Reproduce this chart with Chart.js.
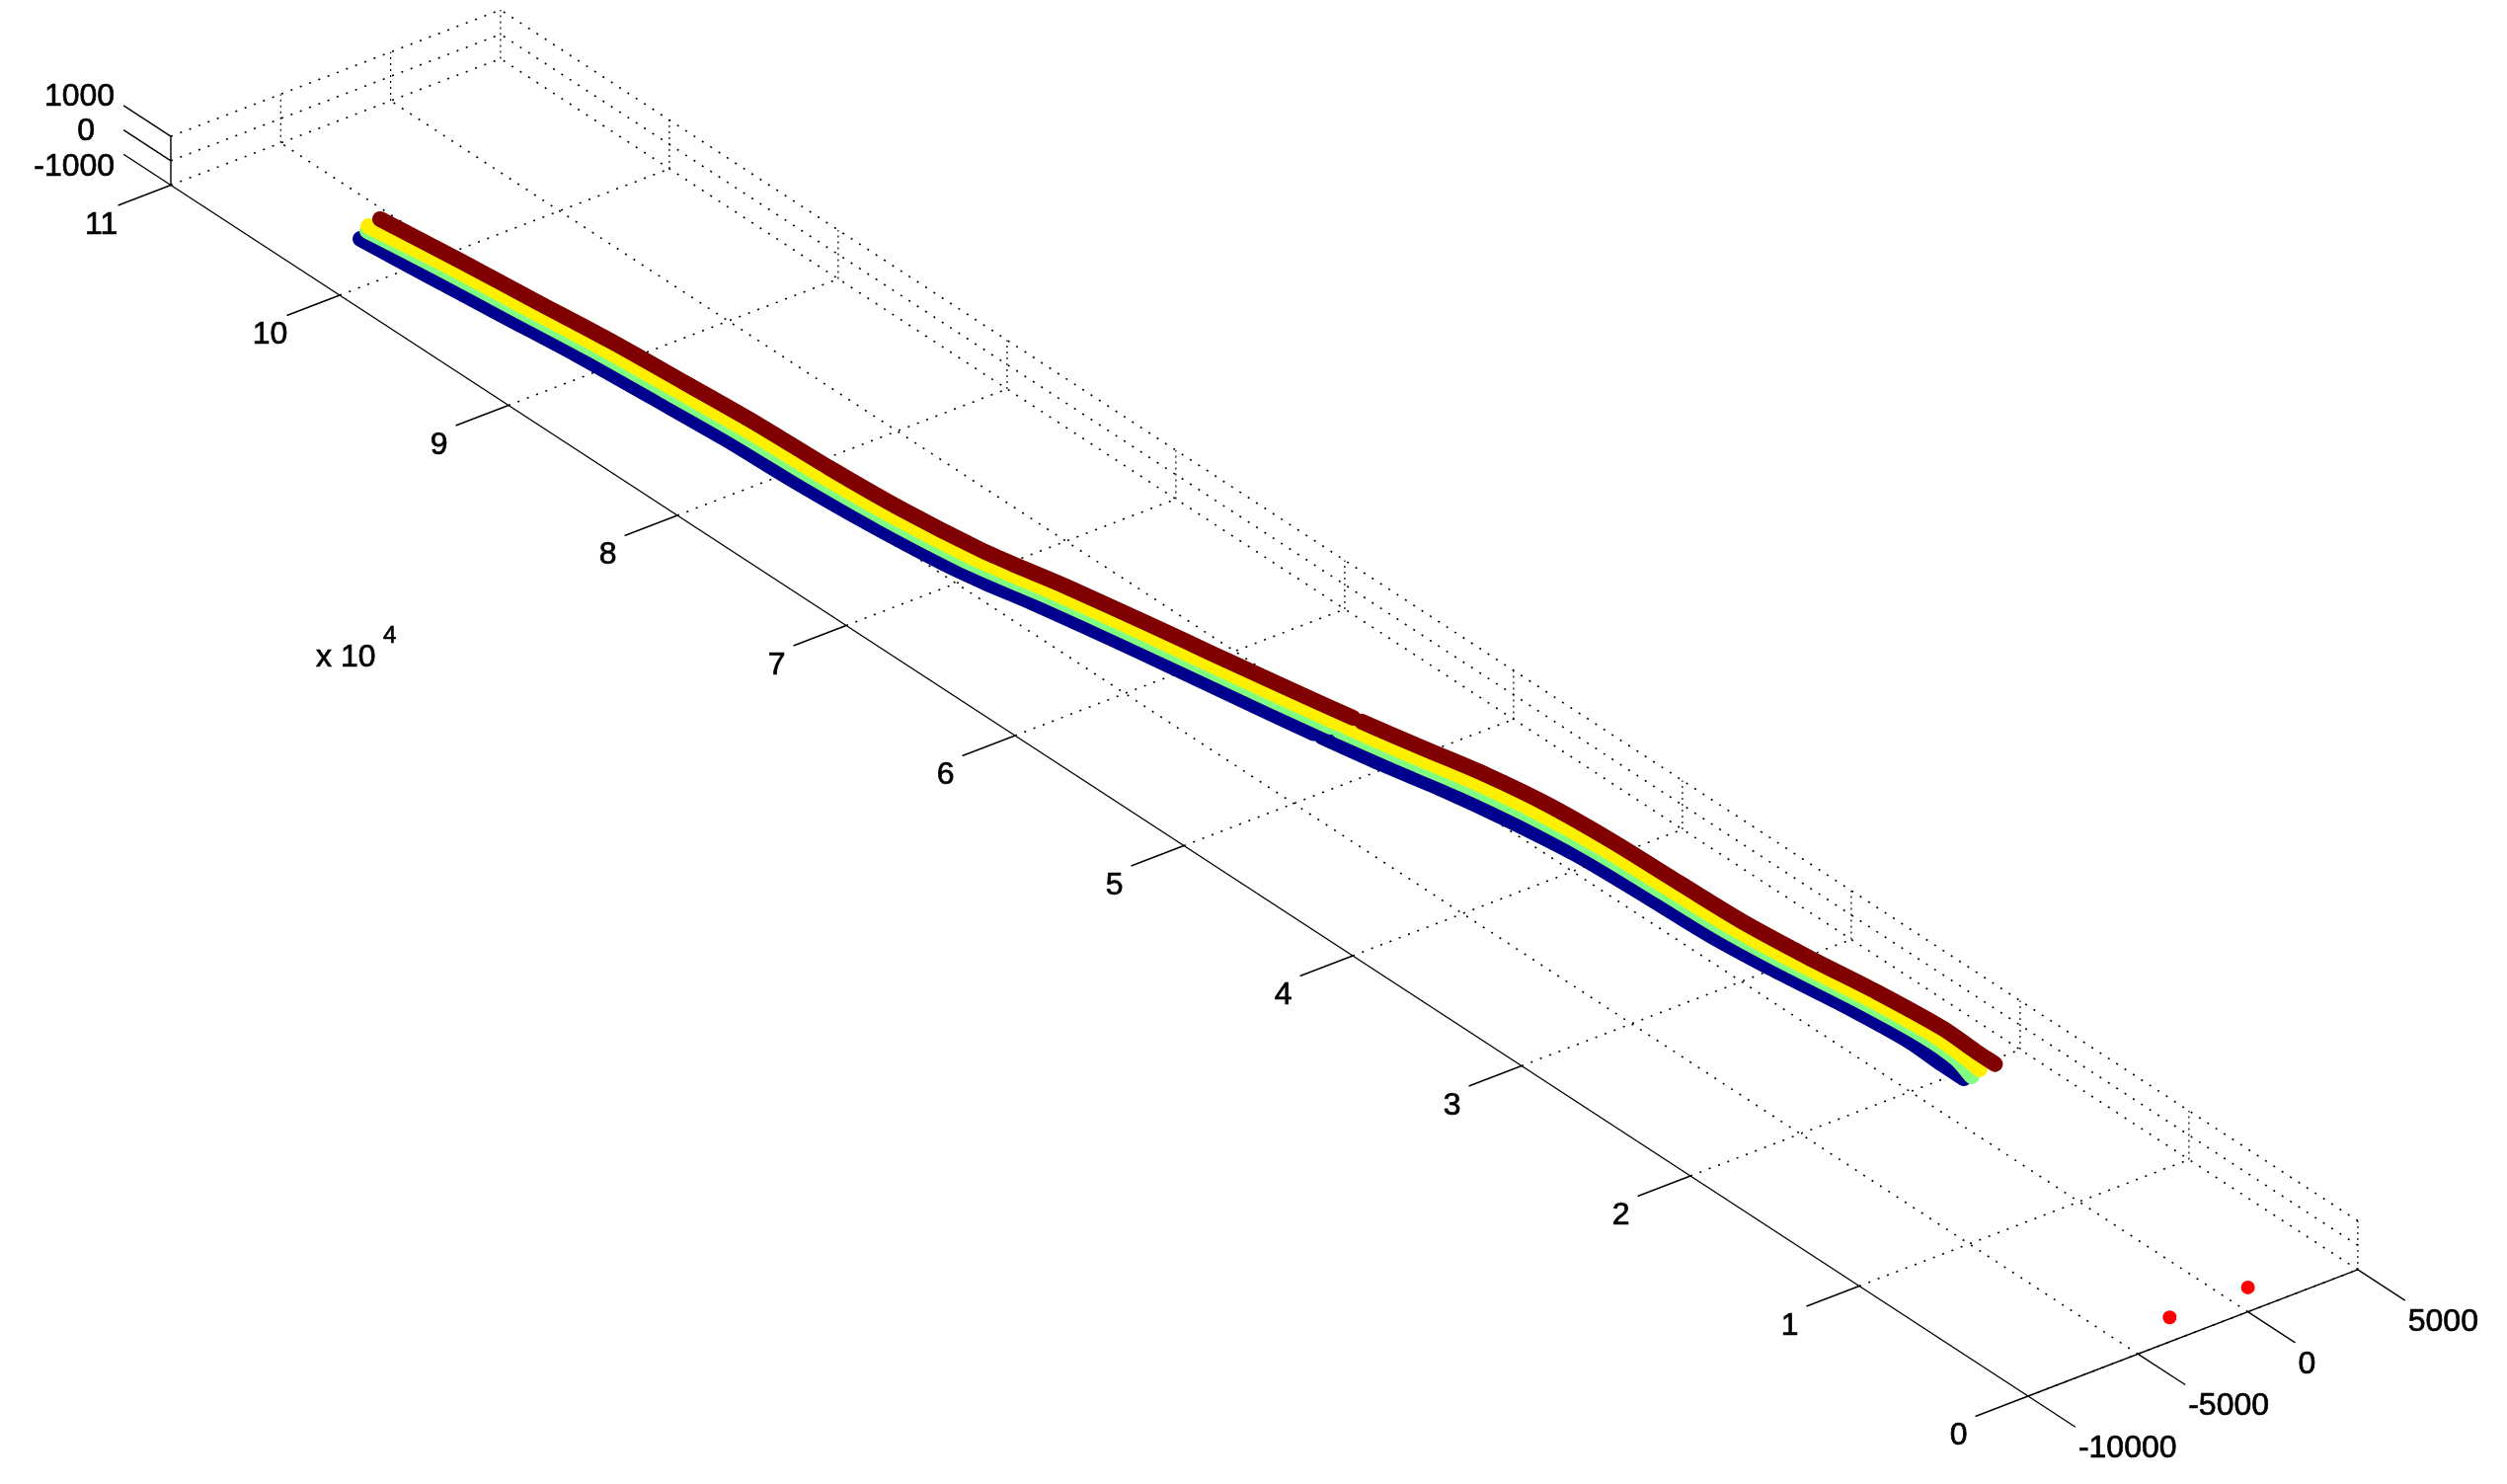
<!DOCTYPE html>
<html lang="en">
<head>
    <meta charset="UTF-8">
    <title>Track 3D</title>
    <script src="https://cdn.jsdelivr.net/npm/chart.js"></script>
    <style>
        html, body { margin: 0; padding: 0; background: white; overflow: hidden; }
        canvas { display: block; }
    </style>
</head>
<body>
<canvas id="chart" width="2539" height="1503"></canvas>
<script>
    // axis ticks
    const xTicks = [0, 10000, 20000, 30000, 40000, 50000, 60000, 70000, 80000, 90000, 100000, 110000];
    const xTickLabels = ['0', '1', '2', '3', '4', '5', '6', '7', '8', '9', '10', '11'];
    const yTicks = [-10000, -5000, 0, 5000];
    const yTickLabels = ['-10000', '-5000', '0', '5000'];
    const zTicks = [-1000, 0, 1000];
    const zTickLabels = ['-1000', '0', '1000'];

    // tracks, all at z = 0
    const stations = [98000, 94000, 90000, 86000, 82000, 78000, 74000, 70000, 68000, 66000, 62000, 59000, 55000,
        52200, 52000, 51800, 49000, 46000, 43000, 39500, 35500, 32000, 28500, 25000, 21500, 19500];
    const xBrown = [102070, ...stations, 18320];
    const xYellow = [101930, ...stations, 18360];
    const xGreen = [101680, ...stations, 18140];
    const xBlue = [101370, ...stations, 18200];
    const yBrown = [-6571, -6119, -5725, -5317, -5031, -4765, -4630, -4373, -3896, -3495, -3060, -2335, -1830, -1127,
        -610, null, -535, 50, 705, 1151, 1388, 1485, 1592, 1913, 2353, 2642, 2575, 2569];
    const yYellow = [-7214, -6690, -6296, -5888, -5602, -5336, -5201, -4944, -4493, -4114, -3679, -2954, -2449, -1768,
        -1265, null, -1190, -627, 28, 496, 806, 932, 1039, 1360, 1800, 2089, 2022, 1900];
    const yGreen = [-7450, -7023, -6629, -6221, -5935, -5669, -5534, -5277, -4841, -4474, -4039, -3314, -2809, -2141,
        -1645, null, -1570, -1021, -366, 114, 466, 609, 716, 1037, 1477, 1766, 1699, 1370];
    const yBlue = [-8005, -7689, -7295, -6887, -6601, -6335, -6200, -5943, -5536, -5195, -4760, -4035, -3530, -2887,
        -2410, null, -2335, -1810, -1155, -649, -212, -35, 72, 393, 833, 1122, 1055, 1058];
    const zTrack = 0;

    // the two red points
    const xRed = [0, 0];
    const yRed = [-3560, 0];
    const zRed = [0, 0];

    // orthographic view of the box onto the page
    function project(x, y, z) {
        return {
            x: 2054 - 171 * x / 10000 + 111.3 * (y + 10000) / 5000,
            y: 1414 - 111.5 * x / 10000 - 42.7 * (y + 10000) / 5000 - 24.7 * (z + 1000) / 1000
        };
    }

    function trackPoints(xs, ys) {
        return xs.map((x, i) => {
            if (ys[i] === null) return { x: null, y: null };
            return project(x, ys[i], zTrack);
        });
    }

    // list of 3D segments -> points with a gap between them
    function segments(list) {
        const pts = [];
        list.forEach(s => {
            pts.push(project(s[0], s[1], s[2]));
            pts.push(project(s[3], s[4], s[5]));
            pts.push({ x: null, y: null });
        });
        return pts;
    }

    const xMin = 0, xMax = 110000, yMin = -10000, yMax = 5000, zMin = -1000, zMax = 1000;
    const xTickLen = 2400, yTickLen = 2800, zTickLen = 2800;

    let gridLines = [];
    xTicks.forEach(x => gridLines.push([x, yMin, zMin, x, yMax, zMin]));
    yTicks.slice(1).forEach(y => gridLines.push([xMin, y, zMin, xMax, y, zMin]));
    zTicks.forEach(z => {
        gridLines.push([xMin, yMax, z, xMax, yMax, z]);
        gridLines.push([xMax, yMin, z, xMax, yMax, z]);
    });

    let gridUprights = [];
    xTicks.forEach(x => gridUprights.push([x, yMax, zMin, x, yMax, zMax]));
    yTicks.slice(1).forEach(y => gridUprights.push([xMax, y, zMin, xMax, y, zMax]));

    let axisLines = [
        [xMin, yMin, zMin, xMax, yMin, zMin],
        [xMin, yMin, zMin, xMin, yMax, zMin],
        [xMax, yMin, zMin, xMax, yMin, zMax]
    ];
    xTicks.forEach(x => axisLines.push([x, yMin, zMin, x, yMin - xTickLen, zMin]));
    yTicks.forEach(y => axisLines.push([xMin, y, zMin, xMin - yTickLen, y, zMin]));
    zTicks.forEach(z => axisLines.push([xMax, yMin, z, xMax + zTickLen, yMin, z]));

    function trackSet(label, xs, ys, color) {
        return {
            label: label,
            data: trackPoints(xs, ys),
            showLine: true,
            borderColor: color,
            borderWidth: 16,
            borderCapStyle: 'round',
            borderJoinStyle: 'round',
            pointRadius: 0,
            tension: 0.3
        };
    }

    function lineSet(label, list, dash, width) {
        return {
            label: label,
            data: segments(list),
            showLine: true,
            borderColor: '#000000',
            borderWidth: width,
            borderDash: dash,
            pointRadius: 0,
            tension: 0
        };
    }

    // first dataset ends up on top
    const datasets = [
        trackSet('brown', xBrown, yBrown, '#800000'),
        trackSet('yellow', xYellow, yYellow, '#FFF000'),
        trackSet('green', xGreen, yGreen, '#80FF80'),
        trackSet('blue', xBlue, yBlue, '#00008F'),
        {
            label: 'red',
            data: xRed.map((x, i) => project(x, yRed[i], zRed[i])),
            showLine: false,
            pointRadius: 7,
            pointBorderWidth: 0,
            backgroundColor: '#FF0000'
        },
        lineSet('axes', axisLines, [], 1.4),
        lineSet('grid', gridLines, [2, 8], 1.6),
        lineSet('uprights', gridUprights, [2, 4], 1.2)
    ];

    const tickText = {
        id: 'tickText',
        afterDraw(chart) {
            const ctx = chart.ctx;
            const sx = chart.scales.x, sy = chart.scales.y;
            const put = (text, p, dx, dy, align) => {
                const px = sx.getPixelForValue(p.x) + dx, py = sy.getPixelForValue(p.y) + dy;
                ctx.textAlign = align;
                ctx.fillText(text, px, py);
                ctx.strokeText(text, px, py);
            };
            ctx.save();
            ctx.fillStyle = '#000000';
            ctx.strokeStyle = '#000000';
            ctx.lineWidth = 0.7;
            ctx.font = '32px "Liberation Sans"';
            ctx.textBaseline = 'middle';
            xTicks.forEach((x, i) => put(xTickLabels[i], project(x, yMin - xTickLen, zMin), -17, 20, 'center'));
            yTicks.forEach((y, i) => put(yTickLabels[i], project(xMin - yTickLen, y, zMin), 3, 22, 'left'));
            const zShiftX = [-9, -29, -9], zShiftY = [13, 2, -9];
            zTicks.forEach((z, i) => put(zTickLabels[i], project(xMax + zTickLen, yMin, z), zShiftX[i], zShiftY[i], 'right'));

            // axis multiplier
            ctx.textBaseline = 'alphabetic';
            put('x 10', { x: 320, y: 675 }, 0, 0, 'left');
            ctx.font = '24px "Liberation Sans"';
            put('4', { x: 388, y: 651 }, 0, 0, 'left');
            ctx.restore();
        }
    };

    new Chart(document.getElementById('chart').getContext('2d'), {
        type: 'scatter',
        data: { datasets: datasets },
        plugins: [tickText],
        options: {
            responsive: false,
            animation: false,
            layout: { padding: 0, autoPadding: false },
            plugins: { legend: { display: false }, tooltip: { enabled: false } },
            scales: {
                x: { type: 'linear', min: 0, max: 2539, display: false },
                y: { type: 'linear', min: 0, max: 1503, reverse: true, display: false }
            }
        }
    });
</script>
</body>
</html>
